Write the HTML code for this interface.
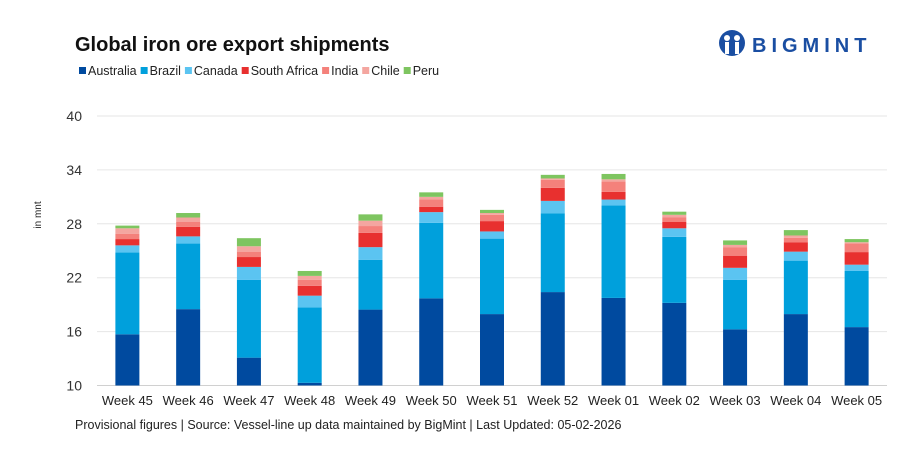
<!DOCTYPE html>
<html><head><meta charset="utf-8">
<style>
body{margin:0;background:#fff;font-family:"Liberation Sans",Arial,sans-serif;}
#wrap{position:relative;width:911px;height:453px;overflow:hidden;}
</style></head>
<body>
<div id="wrap">
<svg id="chart" width="911" height="453" xmlns="http://www.w3.org/2000/svg">
  <text x="75" y="51" font-size="20" font-weight="bold" fill="#111">Global iron ore export shipments</text>
  <g>
    <circle cx="732" cy="43" r="13" fill="#1a4ea2"/>
    <circle cx="727" cy="38" r="3" fill="#fff"/>
    <circle cx="737" cy="38" r="3" fill="#fff"/>
    <rect x="725" y="42" width="4" height="12" fill="#fff"/>
    <rect x="735" y="42" width="4" height="12" fill="#fff"/>
    <text x="752" y="52" font-size="20" font-weight="bold" fill="#1a4ea2" letter-spacing="5">BIGMINT</text>
  </g>
  <g id="legend"></g>
  <text transform="translate(41,215) rotate(-90)" font-size="10" text-anchor="middle" fill="#222">in mnt</text>
  <g id="grid"></g>
  <g id="bars"></g>
  <g id="xlabels"></g>
  <text x="75" y="429" font-size="12.5" fill="#222">Provisional figures | Source: Vessel-line up data maintained by BigMint | Last Updated: 05-02-2026</text>
</svg>
</div>
<script>
const categories = ["Week 45","Week 46","Week 47","Week 48","Week 49","Week 50","Week 51","Week 52","Week 01","Week 02","Week 03","Week 04","Week 05"];
const seriesNames = ["Australia","Brazil","Canada","South Africa","India","Chile","Peru"];
const australia = [15.7,18.5,13.1,10.3,18.45,19.7,17.95,20.4,19.75,19.2,16.25,17.95,16.5];
const brazil = [9.1,7.3,8.65,8.4,5.55,8.4,8.4,8.75,10.3,7.35,5.5,5.95,6.25];
const canada = [0.8,0.8,1.45,1.3,1.4,1.2,0.8,1.4,0.65,0.95,1.35,1.0,0.7];
const southAfrica = [0.7,1.05,1.1,1.1,1.6,0.6,1.15,1.45,0.85,0.7,1.35,1.05,1.4];
const india = [0.6,0.55,0.6,0.65,0.75,0.8,0.7,0.9,1.15,0.5,0.95,0.5,0.95];
const chile = [0.6,0.5,0.6,0.45,0.6,0.3,0.2,0.15,0.25,0.3,0.25,0.25,0.15];
const peru = [0.3,0.5,0.9,0.55,0.7,0.5,0.35,0.4,0.6,0.35,0.5,0.6,0.35];
const yTicks = [10,16,22,28,34,40];
const colors = ["#004a9f","#00a0dc","#5bc4f1","#e8302f","#f4817b","#f4a6a0","#7ec560"];
const series = [australia,brazil,canada,southAfrica,india,chile,peru];

const NS="http://www.w3.org/2000/svg";
const plotL=97, plotR=887, yMin=10, yMax=40, yTop=116, yBot=385.5;
const band=(plotR-plotL)/categories.length, barW=24;
function y(v){return yBot-(Math.max(v,yMin)-yMin)/(yMax-yMin)*(yBot-yTop);}
function xc(i){return plotL+band*(i+0.5);}
function mk(tag,attrs,parent){const e=document.createElementNS(NS,tag);for(const k in attrs)e.setAttribute(k,attrs[k]);parent.appendChild(e);return e;}

const grid=document.getElementById('grid');
yTicks.forEach(t=>{
  const l=mk('line',{x1:plotL,x2:plotR,y1:y(t),y2:y(t),stroke:t===10?'#d0d0d0':'#e6e6e6','stroke-width':1},grid);
  
  
  const tx=mk('text',{x:82,y:y(t)+5,'font-size':14,'text-anchor':'end',fill:'#333'},grid);
  tx.textContent=t;
  
  
});

const bars=document.getElementById('bars');
categories.forEach((c,i)=>{
  let cum=0;
  series.forEach((s,k)=>{
    const v0=cum, v1=cum+s[i];
    cum=v1;
    const r=mk('rect',{x:xc(i)-barW/2,y:y(v1),width:barW,height:Math.max(0,y(v0)-y(v1)),fill:colors[k]},bars);
    
    
  });
  const t=mk('text',{x:xc(i),y:405,'font-size':13,'text-anchor':'middle',fill:'#222'},document.getElementById('xlabels'));
  t.textContent=c;
  
  
});

const lg=document.getElementById('legend');
let lx=79;
seriesNames.forEach((n,k)=>{
  const g=mk('g',{},lg);
  
  
  mk('rect',{x:lx,y:67,width:7,height:7,fill:colors[k]},g);
  const t=mk('text',{x:lx+9,y:75,'font-size':12.5,fill:'#222'},g);
  t.textContent=n;
  lx+=9+t.getComputedTextLength()+4;
});
</script>
</body></html>
